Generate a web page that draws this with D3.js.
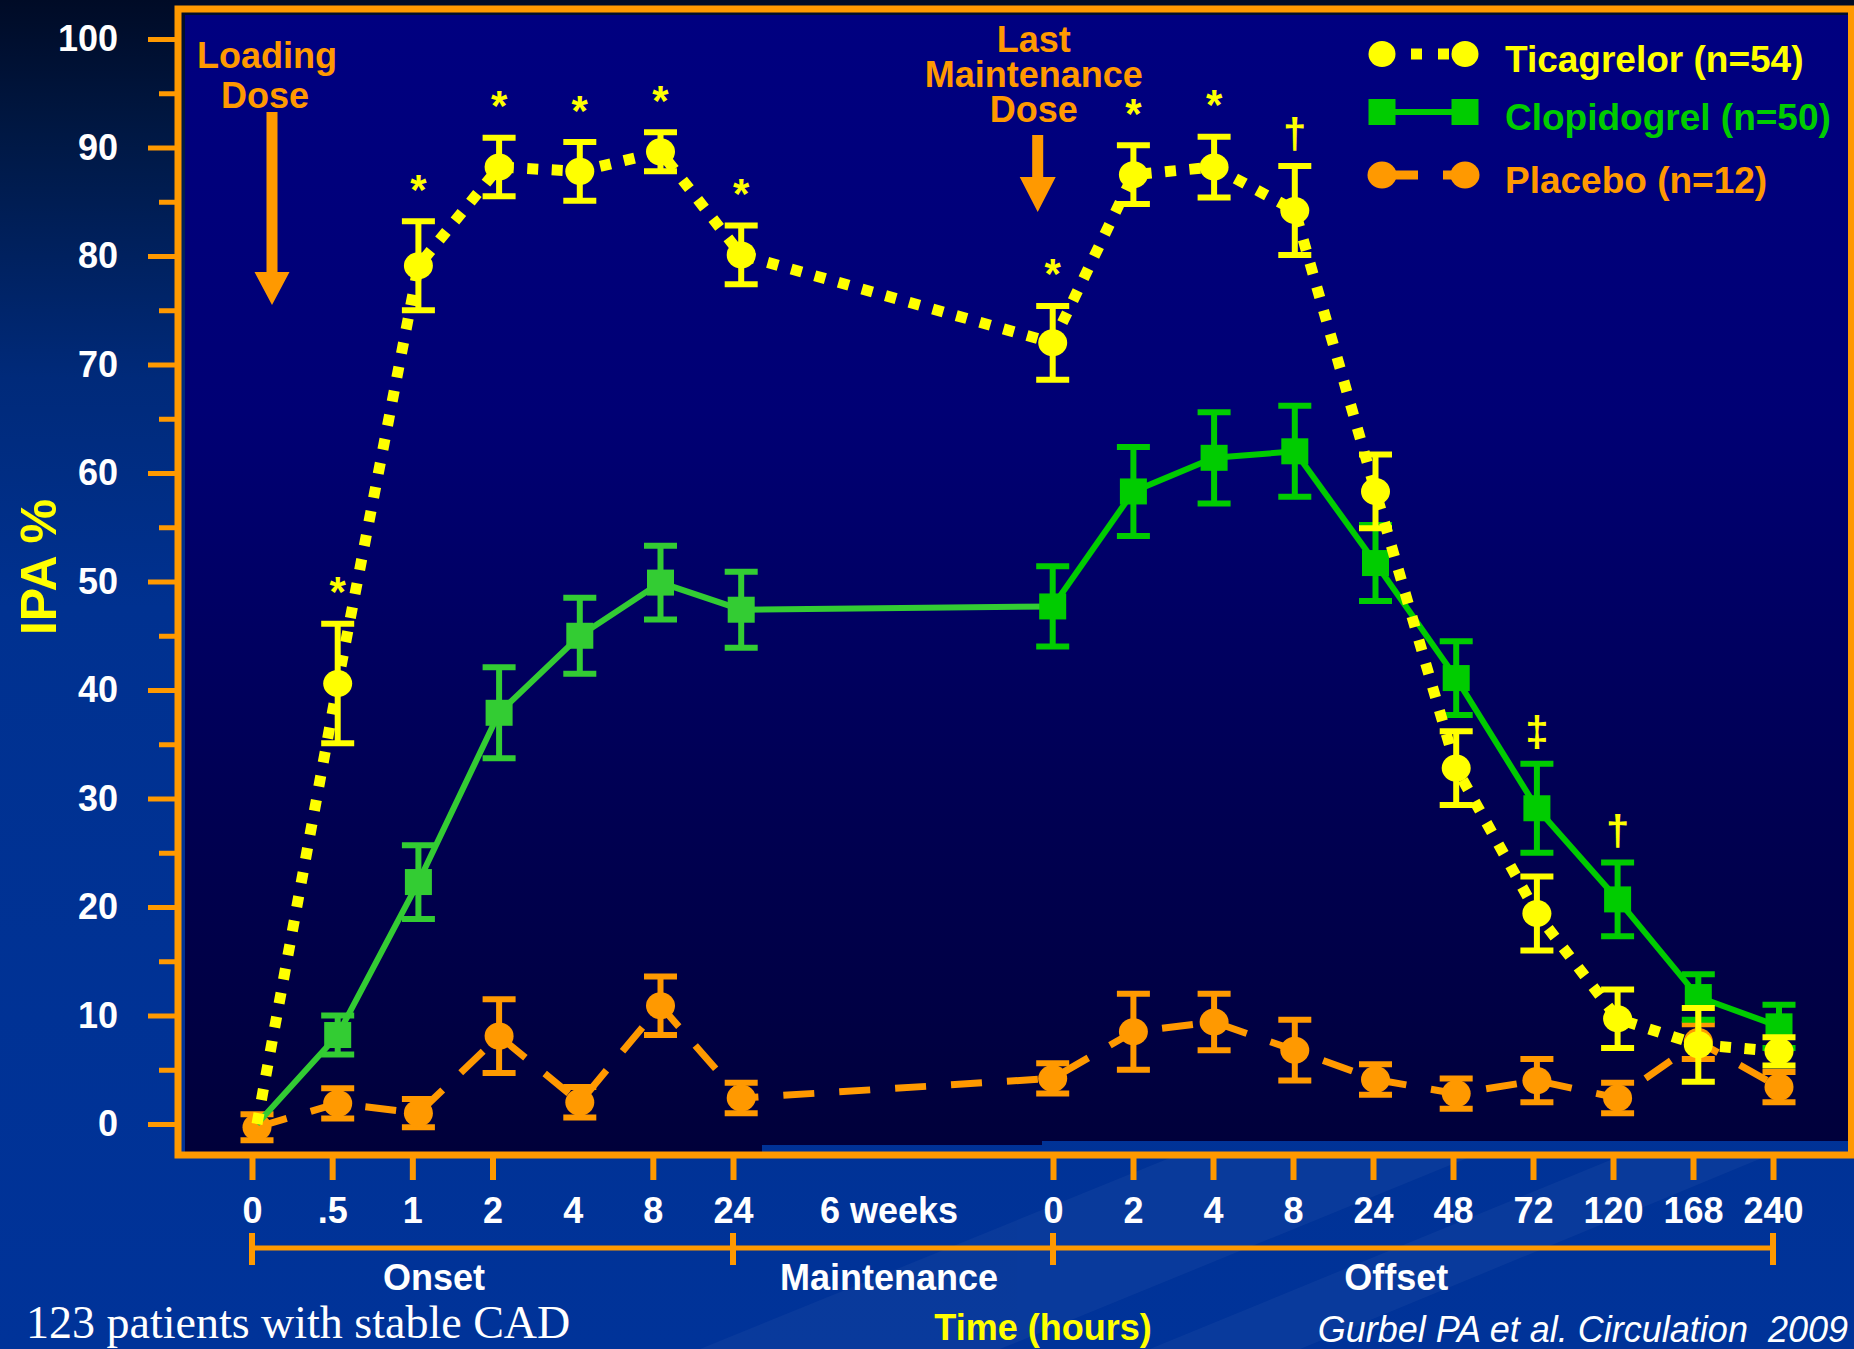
<!DOCTYPE html>
<html>
<head>
<meta charset="utf-8">
<script src="https://cdn.jsdelivr.net/npm/d3@7"></script>
<style>
  html, body { margin: 0; padding: 0; background: #003399; overflow: hidden; }
  svg { display: block; font-family: "Liberation Sans", Arial, Helvetica, sans-serif; }
</style>
</head>
<body>
<svg id="chart" width="1854" height="1349"></svg>
<script>
// ---- Sampling times: onset after the loading dose, offset after the last maintenance dose ----
const timeLabels = ["0", ".5", "1", "2", "4", "8", "24", "0", "2", "4", "8", "24", "48", "72", "120", "168", "240"];
const phases = ["onset", "onset", "onset", "onset", "onset", "onset", "onset",
                "offset", "offset", "offset", "offset", "offset", "offset", "offset", "offset", "offset", "offset"];

// ---- Inhibition of platelet aggregation (IPA, %) : mean and SEM ----
const ticagrelor    = [0, 40.6, 79.1, 88.2, 87.8, 89.6, 80.1, 72.0, 87.5, 88.2, 84.2, 58.3, 32.8, 19.4, 9.7, 7.3, 6.7];
const ticagrelorErr = [null, 5.5, 4.1, 2.7, 2.7, 1.8, 2.7, 3.4, 2.7, 2.8, 4.1, 3.4, 3.4, 3.4, 2.7, 3.4, 1.3];
const clopidogrel    = [0, 8.2, 22.3, 37.9, 45.0, 49.9, 47.4, 47.7, 58.3, 61.4, 62.0, 51.7, 41.1, 29.1, 20.7, 11.7, 9.0];
const clopidogrelErr = [null, 1.8, 3.4, 4.2, 3.5, 3.4, 3.5, 3.7, 4.1, 4.2, 4.2, 3.5, 3.4, 4.1, 3.4, 2.1, 2.0];
const placebo    = [-0.3, 1.9, 1.0, 8.1, 2.0, 10.9, 2.4, 4.2, 8.5, 9.4, 6.8, 4.1, 2.8, 4.0, 2.4, 7.6, 3.4];
const placeboErr = [1.2, 1.4, 1.3, 3.4, 1.4, 2.7, 1.4, 1.4, 3.5, 2.6, 2.8, 1.4, 1.4, 2.0, 1.4, 1.6, 1.4];

// Significance of ticagrelor vs clopidogrel at each time point
const significance = ["", "*", "*", "*", "*", "*", "*", "*", "*", "*", "\u2020", "", "", "\u2021", "\u2020", "", ""];

// Axis text
const yTicks = [0, 10, 20, 30, 40, 50, 60, 70, 80, 90, 100];
const yMinorTicks = [5, 15, 25, 35, 45, 55, 65, 75, 85, 95];
const maintenanceLabel = "6 weeks";
const phaseNames = ["Onset", "Maintenance", "Offset"];
const legendNames = ["Ticagrelor (n=54)", "Clopidogrel (n=50)", "Placebo (n=12)"];
const loadingDoseLines = ["Loading", "Dose"];
const lastDoseLines = ["Last", "Maintenance", "Dose"];

// ---------------------------------------------------------------------------
const W = 1854, H = 1349;
const SANS = "'Liberation Sans', Arial, Helvetica, sans-serif";
const SERIF = "'Liberation Serif', 'Times New Roman', Times, serif";
const ORANGE = "#ff9900", YELLOW = "#ffff00", GREEN = "#00cc00", GREEN_LIGHT = "#33cc33";
const svg = d3.select("#chart");
const defs = svg.append("defs");

const bgGrad = defs.append("linearGradient").attr("id", "bg")
  .attr("gradientUnits", "userSpaceOnUse").attr("x1", 0).attr("y1", 0).attr("x2", 0).attr("y2", H);
[[0, "#000b26"], [0.1, "#001844"], [0.28, "#002a7a"], [0.45, "#003190"], [1, "#003399"]]
  .forEach(([o, c]) => bgGrad.append("stop").attr("offset", o).attr("stop-color", c));

const plotGrad = defs.append("linearGradient").attr("id", "plotBg")
  .attr("gradientUnits", "userSpaceOnUse").attr("x1", 0).attr("y1", 15).attr("x2", 0).attr("y2", 1152);
[[0, "#000080"], [0.35, "#000074"], [0.7, "#000052"], [1, "#00003a"]]
  .forEach(([o, c]) => plotGrad.append("stop").attr("offset", o).attr("stop-color", c));

svg.append("rect").attr("width", W).attr("height", H).attr("fill", "url(#bg)");

// faint diagonal sheen in the lower background
const sheen = svg.append("g").attr("opacity", 0.035).attr("fill", "#ffffff");
sheen.append("polygon").attr("points", "700,1349 1000,1349 1854,1000 1854,880");
sheen.append("polygon").attr("points", "1150,1349 1300,1349 1854,1120 1854,1060");

// plot panel
svg.append("rect").attr("x", 185).attr("y", 15).attr("width", 1663).attr("height", 1137).attr("fill", "url(#plotBg)");
svg.append("rect").attr("x", 762).attr("y", 1145).attr("width", 280).attr("height", 7).attr("fill", "url(#bg)");
svg.append("rect").attr("x", 1042).attr("y", 1141).attr("width", 806).attr("height", 11).attr("fill", "url(#bg)");

// ---- scales ----
const n = timeLabels.length;
const onsetCount = phases.filter(p => p === "onset").length;
const GAP = 3.86; // width of the maintenance break, in sampling steps
const slotOf = i => phases[i] === "onset" ? i : (onsetCount - 1) + GAP + (i - onsetCount);
const firstOff = slotOf(onsetCount), lastOn = slotOf(onsetCount - 1), lastSlot = slotOf(n - 1);
const x = d3.scaleLinear().domain([0, lastSlot]).range([257, 1779]);
// the time axis below the panel is laid out piecewise, phase by phase
const xAxisScale = d3.scaleLinear().domain([0, lastOn, firstOff, lastSlot]).range([252, 733, 1053, 1773]);
const y = d3.scaleLinear().domain([0, 100]).range([1124, 39]);
const px = i => x(slotOf(i));

// ---- dose annotations ----
function downArrow(cx, top, headTop, tip, shaftHalf, headHalf) {
  return [[cx - shaftHalf, top], [cx + shaftHalf, top], [cx + shaftHalf, headTop], [cx + headHalf, headTop],
          [cx, tip], [cx - headHalf, headTop], [cx - shaftHalf, headTop]].map(p => p.join(",")).join(" ");
}
function multiline(g, lines, cx, firstBaseline, step, shifts) {
  const t = g.append("text").attr("text-anchor", "middle");
  lines.forEach((s, k) => {
    t.append("tspan").attr("x", cx + (shifts ? shifts[k] : 0)).attr("y", firstBaseline + k * step).text(s);
  });
}
const ann = svg.append("g").attr("fill", ORANGE).attr("font-weight", "bold").attr("font-size", 36);
const ldX = px(0);
multiline(ann, loadingDoseLines, ldX + 10, 68, 40, [0, -2]);
ann.append("polygon").attr("points", downArrow(ldX + 15, 112, 272, 305, 5.5, 17.5));
const lmX = px(onsetCount);
multiline(ann, lastDoseLines, lmX - 19, 52, 35);
ann.append("polygon").attr("points", downArrow(lmX - 15, 135, 177, 212, 5.5, 18));

// ---- series ----
const series = [
  { name: "placebo", values: placebo, err: placeboErr, color: () => ORANGE, shape: "circle",
    lineWidth: 7, dash: "31 25" },
  { name: "clopidogrel", values: clopidogrel, err: clopidogrelErr,
    color: i => phases[i] === "onset" ? GREEN_LIGHT : GREEN, shape: "square", lineWidth: 6, dash: null },
  { name: "ticagrelor", values: ticagrelor, err: ticagrelorErr, color: () => YELLOW, shape: "circle",
    lineWidth: 11, dash: "11 13.5" }
];

const line = d3.line().x(d => px(d.i)).y(d => y(d.v));

series.forEach(s => {
  const g = svg.append("g").attr("class", s.name);
  const pts = s.values.map((v, i) => ({ i, v, e: s.err[i] }));

  if (s.name === "clopidogrel") {
    // lighter stroke through onset and maintenance, full green through offset
    const split = onsetCount;
    g.append("path").attr("d", line(pts.slice(0, split + 1))).attr("fill", "none")
      .attr("stroke", GREEN_LIGHT).attr("stroke-width", s.lineWidth);
    g.append("path").attr("d", line(pts.slice(split))).attr("fill", "none")
      .attr("stroke", GREEN).attr("stroke-width", s.lineWidth);
  } else {
    g.append("path").attr("d", line(pts)).attr("fill", "none")
      .attr("stroke", s.color(0)).attr("stroke-width", s.lineWidth)
      .attr("stroke-dasharray", s.dash).attr("stroke-linecap", "butt");
  }

  const measured = pts.filter(d => d.e !== null);

  // error bars
  const eb = g.append("g").selectAll("g").data(measured).join("g")
    .attr("stroke", d => s.color(d.i)).attr("stroke-width", 6);
  eb.append("line").attr("x1", d => px(d.i)).attr("x2", d => px(d.i))
    .attr("y1", d => y(d.v + d.e)).attr("y2", d => y(d.v - d.e));
  [1, -1].forEach(sign => {
    eb.append("line").attr("x1", d => px(d.i) - 16.5).attr("x2", d => px(d.i) + 16.5)
      .attr("y1", d => y(d.v + sign * d.e)).attr("y2", d => y(d.v + sign * d.e));
  });

  // markers
  const mk = g.append("g").selectAll("*").data(measured);
  if (s.shape === "circle") {
    mk.join("ellipse").attr("cx", d => px(d.i)).attr("cy", d => y(d.v))
      .attr("rx", 14.5).attr("ry", 13.5).attr("fill", d => s.color(d.i));
  } else {
    mk.join("rect").attr("x", d => px(d.i) - 13.5).attr("y", d => y(d.v) - 13)
      .attr("width", 27).attr("height", 26).attr("fill", d => s.color(d.i));
  }
});

// ---- significance markers above the highest error bar ----
const sigG = svg.append("g").attr("fill", YELLOW).attr("font-weight", "bold").attr("font-size", 42).attr("text-anchor", "middle");
significance.forEach((mark, i) => {
  if (!mark) return;
  const tops = [ticagrelor[i] + (ticagrelorErr[i] || 0), clopidogrel[i] + (clopidogrelErr[i] || 0)];
  const centerY = y(d3.max(tops)) - 32;
  const t = sigG.append("text").attr("x", px(i)).attr("y", 0).text(mark);
  const bb = t.node().getBBox();
  t.attr("y", centerY - (bb.y + bb.height / 2));
});

// ---- frame ----
svg.append("rect").attr("x", 178).attr("y", 9).attr("width", 1673.5).attr("height", 1146)
  .attr("fill", "none").attr("stroke", ORANGE).attr("stroke-width", 7);

// ---- y axis ----
const yAxisG = svg.append("g").attr("transform", "translate(175,0)")
  .call(d3.axisLeft(y).tickValues(yTicks).tickSize(27).tickPadding(30).tickFormat(d3.format("d")));
yAxisG.select(".domain").remove();
yAxisG.selectAll(".tick line").attr("stroke", ORANGE).attr("stroke-width", 5);
yAxisG.selectAll(".tick text").attr("fill", "#ffffff").attr("font-size", 36).attr("font-weight", "bold")
  .attr("font-family", SANS);
const yMinorG = svg.append("g").attr("transform", "translate(175,0)")
  .call(d3.axisLeft(y).tickValues(yMinorTicks).tickSize(16).tickFormat(""));
yMinorG.select(".domain").remove();
yMinorG.selectAll(".tick line").attr("stroke", ORANGE).attr("stroke-width", 5);

svg.append("text").attr("transform", "translate(56,567) rotate(-90)").attr("text-anchor", "middle")
  .attr("fill", YELLOW).attr("font-size", 50).attr("font-weight", "bold").text("IPA %");

// ---- x axis ----
const xAxisG = svg.append("g").attr("transform", "translate(0,1158)")
  .call(d3.axisBottom(xAxisScale).tickValues(d3.range(n).map(slotOf)).tickSize(22).tickPadding(17)
    .tickFormat((d, i) => timeLabels[i]));
xAxisG.select(".domain").remove();
xAxisG.selectAll(".tick line").attr("stroke", ORANGE).attr("stroke-width", 6)
  .filter((d, i) => phases[i] === "onset" && timeLabels[i] === "4").remove();
xAxisG.selectAll(".tick text").attr("fill", "#ffffff").attr("font-size", 36).attr("font-weight", "bold")
  .attr("font-family", SANS);

const midGap = (lastOn + firstOff) / 2;
svg.append("text").attr("x", xAxisScale(midGap) - 4).attr("y", 1223).attr("text-anchor", "middle")
  .attr("fill", "#ffffff").attr("font-size", 36).attr("font-weight", "bold").text(maintenanceLabel);

// phase brackets
const br = svg.append("g").attr("stroke", ORANGE);
br.append("line").attr("x1", xAxisScale(0)).attr("x2", xAxisScale(lastSlot)).attr("y1", 1248).attr("y2", 1248).attr("stroke-width", 5);
[0, lastOn, firstOff, lastSlot].forEach(s => {
  br.append("line").attr("x1", xAxisScale(s)).attr("x2", xAxisScale(s)).attr("y1", 1233).attr("y2", 1265).attr("stroke-width", 6);
});
const phaseLabelX = [xAxisScale(2.27), xAxisScale(midGap) - 4, xAxisScale(firstOff + 4.29)];
phaseNames.forEach((t, k) => {
  svg.append("text").attr("x", phaseLabelX[k]).attr("y", 1290).attr("text-anchor", "middle")
    .attr("fill", "#ffffff").attr("font-size", 36).attr("font-weight", "bold").text(t);
});

svg.append("text").attr("x", 1043).attr("y", 1340).attr("text-anchor", "middle")
  .attr("fill", YELLOW).attr("font-size", 36).attr("font-weight", "bold").text("Time (hours)");

svg.append("text").attr("x", 26).attr("y", 1338).attr("fill", "#ffffff")
  .style("font-family", SERIF).attr("font-size", 46)
  .text("123 patients with stable CAD");

svg.append("text").attr("x", 1848).attr("y", 1342).attr("text-anchor", "end").attr("fill", "#ffffff")
  .attr("font-size", 36).attr("font-style", "italic").style("white-space", "pre")
  .text("Gurbel PA et al. Circulation  2009");

// ---- legend ----
const lg = svg.append("g");
const lx1 = 1382, lx2 = 1465, ltx = 1505;
const rows = [54, 112, 175];
// ticagrelor: dotted line with round ends
lg.append("line").attr("x1", 1395).attr("x2", 1452).attr("y1", rows[0]).attr("y2", rows[0])
  .attr("stroke", YELLOW).attr("stroke-width", 11).attr("stroke-dasharray", "11 16").attr("stroke-dashoffset", 11);
[lx1, lx2].forEach(cx => lg.append("ellipse").attr("cx", cx).attr("cy", rows[0]).attr("rx", 13.5).attr("ry", 13).attr("fill", YELLOW));
// clopidogrel: solid line with squares
lg.append("line").attr("x1", lx1).attr("x2", lx2).attr("y1", rows[1]).attr("y2", rows[1])
  .attr("stroke", GREEN).attr("stroke-width", 6);
[lx1, lx2].forEach(cx => lg.append("rect").attr("x", cx - 13.5).attr("y", rows[1] - 13).attr("width", 27).attr("height", 26).attr("fill", GREEN));
// placebo: dashed line with circles
lg.append("line").attr("x1", 1395).attr("x2", 1452).attr("y1", rows[2]).attr("y2", rows[2])
  .attr("stroke", ORANGE).attr("stroke-width", 9).attr("stroke-dasharray", "23 25");
[lx1, lx2].forEach(cx => lg.append("ellipse").attr("cx", cx).attr("cy", rows[2]).attr("rx", 14.5).attr("ry", 13.5).attr("fill", ORANGE));

const legendColors = [YELLOW, GREEN, ORANGE];
legendNames.forEach((t, k) => {
  lg.append("text").attr("x", ltx).attr("y", rows[k] + 18).attr("fill", legendColors[k])
    .attr("font-size", 37).attr("font-weight", "bold").text(t);
});
</script>
</body>
</html>
